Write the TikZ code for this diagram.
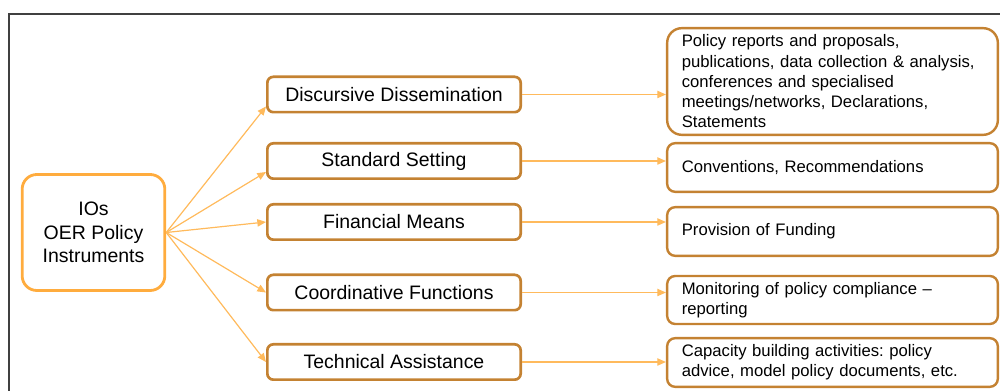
\documentclass[tikz,border=0pt]{standalone}
\usepackage{fontspec}
\setmainfont{Liberation Sans}
\usepackage{xcolor}
\usetikzlibrary{arrows.meta,calc}
\frenchspacing

\definecolor{lightorange}{RGB}{255,172,62}
\definecolor{darkorange}{RGB}{196,130,50}
\definecolor{arroworange}{RGB}{255,186,92}
\definecolor{framegrey}{RGB}{64,64,64}

\tikzset{
  sourcebox/.style={draw=lightorange, line width=2.1pt, rounded corners=11pt, align=center,
    minimum width=107pt, minimum height=87pt, font=\fontsize{14.6}{17.4}\selectfont},
  instrbox/.style={draw=darkorange, line width=2pt, rounded corners=4.5pt, align=center,
    minimum width=190pt, minimum height=26.5pt, font=\fontsize{14.6}{17.4}\selectfont},
  detailbox/.style={draw=darkorange, line width=1.8pt, rounded corners=6pt, align=left,
    text width=226pt, inner xsep=11pt, font=\fontsize{12.5}{15.2}\selectfont},
  fanarrow/.style={draw=arroworange, line width=0.9pt, -{Triangle[length=6.5pt,width=5.5pt]}},
}

\begin{document}
\begin{tikzpicture}[x=0.75pt,y=0.75pt,yscale=-1,xscale=1]
\useasboundingbox (0,0) rectangle (1000,391);

% frame
\draw [framegrey, line width=1.1pt] (1000,14) -- (9,14) -- (9,391);

% source
\node [sourcebox] (ios) at (93.5,232.5) {IOs\\OER Policy\\Instruments};

% instruments
\node [instrbox] (dis) at (394,94.5) {Discursive Dissemination};
\node [instrbox] (std) at (394,161) {Standard Setting};
\node [instrbox] (fin) at (394,222) {Financial Means};
\node [instrbox] (coo) at (394,292.5) {Coordinative Functions};
\node [instrbox] (tec) at (394,362) {Technical Assistance};

% details
\node [detailbox, rounded corners=11pt, minimum height=80pt] (pol) at (832.5,81.5) {Policy reports and proposals,\\publications, data collection \& analysis,\\conferences and specialised\\meetings/networks, Declarations,\\Statements};
\node [detailbox, minimum height=36.5pt] (con) at (832.5,167.5) {Conventions, Recommendations};
\node [detailbox, minimum height=36.5pt] (pro) at (832.5,231.5) {Provision of Funding};
\node [detailbox, minimum height=36pt] (mon) at (832.5,300) {Monitoring of policy compliance --\\reporting};
\node [detailbox, minimum height=36.5pt] (cap) at (832.5,362.5) {Capacity building activities: policy\\advice, model policy documents, etc.};

% fan from source
\draw [fanarrow] (ios.east) -- ($(dis.west)+(0,12)$);
\draw [fanarrow] (ios.east) -- ($(std.west)+(0,11)$);
\draw [fanarrow] (ios.east) -- (fin.west);
\draw [fanarrow] (ios.east) -- (coo.west);
\draw [fanarrow] (ios.east) -- (tec.west);

% instruments to details
\draw [fanarrow] (dis.east) -- (dis.east -| pol.west);
\draw [fanarrow] (std.east) -- (std.east -| con.west);
\draw [fanarrow] (fin.east) -- (fin.east -| pro.west);
\draw [fanarrow] (coo.east) -- (coo.east -| mon.west);
\draw [fanarrow] (tec.east) -- (tec.east -| cap.west);

\end{tikzpicture}
\end{document}
